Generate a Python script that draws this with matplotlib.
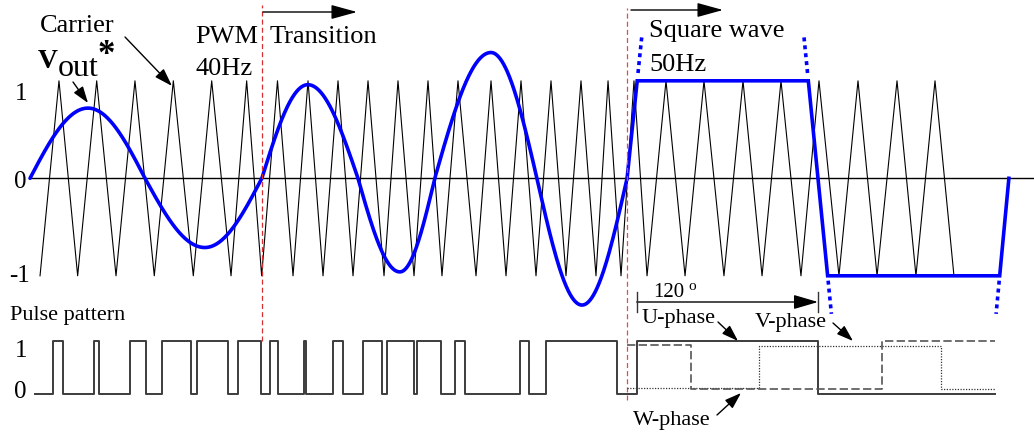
import numpy as np
import matplotlib.pyplot as plt

plt.rcParams['font.family'] = ['Liberation Serif', 'DejaVu Serif']

# ---- data (time in ms) ----
# reference voltage v_out*: zero crossings and peaks
vref_t = [0.0, 6.3, 12.5, 19.0, 25.2, 30.2, 35.65, 40.2, 44.0, 50.1, 55.1, 60.0, 64.9]
vref_v = [0.0, 0.72, 0.0, -0.71, 0.0, 0.96, 0.0, -0.96, 0.0, 1.29, 0.0, -1.30, 0.0]

# square wave operation (corners)
sq_t = [64.9, 66.0, 84.6, 86.7, 105.4, 106.4]
sq_v = [0.0, 1.0, 1.0, -1.0, -1.0, 0.0]

# triangular carrier vertices, valley first, alternating -1 / +1
carrier_t = [1.09, 3.15, 5.18, 7.25, 9.35, 11.41, 13.51, 15.58, 17.75, 19.75,
             21.85, 23.55, 25.18, 26.90, 28.59, 30.22, 31.85, 33.48, 35.11, 36.74,
             38.48, 40.00, 41.74, 43.26, 44.78, 46.52, 48.48, 50.11, 51.74, 53.37,
             55.00, 56.63, 58.26, 59.89, 61.52, 62.83, 64.24, 65.65, 67.07, 69.13,
             71.20, 73.26, 75.43, 77.50, 79.57, 81.63, 83.80, 85.76, 87.93, 90.00,
             92.07, 94.24, 96.30, 98.37, 100.43]
carrier_v = [-1 if i % 2 == 0 else 1 for i in range(len(carrier_t))]

# pulse pattern (continues as U-phase): starts low, toggles at each edge
pulse_start = 0.54
pulse_edges = [2.47, 3.55, 6.96, 7.53, 10.87, 12.61, 14.32, 17.47, 18.12, 21.49,
               22.64, 25.11, 26.09, 26.99, 29.78, 30.00, 32.90, 33.99, 36.16, 38.29,
               38.84, 41.74, 42.03, 44.64, 46.20, 47.28, 53.26, 54.27, 56.05, 63.84,
               65.95, 85.65]
pulse_end = 104.89

# V- and W-phase in square wave mode
v_edges = [64.9, 79.25, 99.0, 104.89]
v_levels = [0.11, 0.90, 0.10]
w_edges = [64.9, 71.85, 92.61, 104.89]
w_levels = [0.92, 0.09, 1.0]

# ---- layout ----
W, H = 1034, 433
PX_MS, X0 = 9.2, 30.0
Y0, Y_UNIT = 178.3, 97.5
P0, P_UNIT = 394.0, 53.0


def fx(x):
    return x / W


def fy(y):
    return 1 - y / H


def steps(start, edges, end, levels):
    xs, ys = [start], [levels[0]]
    for k, e in enumerate(edges):
        xs += [e, e]
        ys += [levels[k % len(levels)], levels[(k + 1) % len(levels)]]
    xs.append(end)
    ys.append(ys[-1])
    return xs, ys


def quarter_arcs(tk, vk, n=80):
    ts, vs = [], []
    for i in range(len(tk) - 1):
        u = np.linspace(0, 1, n)
        if vk[i] == 0:
            v = vk[i + 1] * np.sin(np.pi / 2 * u)
        else:
            v = vk[i] * np.cos(np.pi / 2 * u)
        ts.append(tk[i] + (tk[i + 1] - tk[i]) * u)
        vs.append(v)
    return np.concatenate(ts), np.concatenate(vs)


fig = plt.figure(figsize=(W / 100, H / 100), dpi=100)
xlim = (-X0 / PX_MS, (W - X0) / PX_MS)

ax = fig.add_axes([0, 0, 1, 1])
ax.set_xlim(*xlim)
ax.set_ylim((Y0 - H) / Y_UNIT, Y0 / Y_UNIT)
ax.axis('off')

ax2 = fig.add_axes([0, 0, 1, 1])
ax2.set_facecolor('none')
ax2.set_xlim(*xlim)
ax2.set_ylim((P0 - H) / P_UNIT, P0 / P_UNIT)
ax2.axis('off')

# zero line, carrier, reference
ax.axhline(0, xmin=fx(X0), xmax=1, color='black', lw=1.0)
ax.plot(carrier_t, carrier_v, color='black', lw=0.8)
st, sv = quarter_arcs(vref_t, vref_v)
ax.plot(st, sv, color='#0000ff', lw=2.6, solid_capstyle='round')
ax.plot(sq_t, sq_v, color='#0000ff', lw=2.6, solid_joinstyle='miter')


# dotted continuation of the square wave edges
def edge_ext(i, j, va, vb):
    k = (sq_t[j] - sq_t[i]) / (sq_v[j] - sq_v[i])
    return [sq_t[i] + (va - sq_v[i]) * k, sq_t[i] + (vb - sq_v[i]) * k], [va, vb]


for (i, j, va, vb) in [(0, 1, 1.08, 1.47), (2, 3, 1.08, 1.47),
                       (2, 3, -1.05, -1.39), (4, 5, -1.05, -1.39)]:
    ex, ey = edge_ext(i, j, va, vb)
    ax.plot(ex, ey, color='#0000ff', lw=2.6, linestyle=(0, (1.1, 1.1)))

# mode boundaries
ax.axvline(vref_t[4], ymin=fy(341), ymax=fy(5), color='#d83030', lw=0.9, dashes=(4, 2.5))
ax.axvline(vref_t[-1], ymin=fy(400), ymax=fy(8), color='#e84848', lw=0.9, dashes=(4, 2.5))

# pulse pattern / phases
px_, py_ = steps(pulse_start, pulse_edges, pulse_end, [0, 1])
ax2.plot(px_, py_, color='#3c3c3c', lw=1.4)
vx, vy = steps(v_edges[0], v_edges[1:-1], v_edges[-1], v_levels)
ax2.plot(vx, vy, color='#333333', lw=0.9, linestyle=(0, (1, 1.2)))
wx, wy = steps(w_edges[0], w_edges[1:-1], w_edges[-1], w_levels)
ax2.plot(wx, wy, color='#555555', lw=1.2, dashes=(5, 2))

# ---- text ----
ts = 19
fig.text(fx(40), fy(32), 'Carrier', fontsize=ts, va='baseline')
fig.text(fx(38), fy(68), 'V', fontsize=20, fontweight='bold', va='baseline')
fig.text(fx(58), fy(76), 'out', fontsize=23, va='baseline')
fig.text(fx(98), fy(64), '*', fontsize=25, fontweight='bold', va='baseline')
fig.text(fx(195), fy(43), 'PWM', fontsize=ts, va='baseline')
fig.text(fx(270), fy(43), 'Transition', fontsize=ts, va='baseline')
fig.text(fx(196), fy(75), '40Hz', fontsize=ts, va='baseline')
fig.text(fx(649), fy(37), 'Square wave', fontsize=ts, va='baseline')
fig.text(fx(649), fy(71), '50Hz', fontsize=ts, va='baseline')

fig.text(fx(21), fy(100), '1', fontsize=18, ha='center', va='baseline')
fig.text(fx(20), fy(188), '0', fontsize=18, ha='center', va='baseline')
fig.text(fx(19), fy(282), '-1', fontsize=18, ha='center', va='baseline')
fig.text(fx(10), fy(320), 'Pulse pattern', fontsize=16, va='baseline')
fig.text(fx(21), fy(357), '1', fontsize=18, ha='center', va='baseline')
fig.text(fx(20), fy(398), '0', fontsize=18, ha='center', va='baseline')

fig.text(fx(653), fy(297), '120', fontsize=15, va='baseline')
fig.text(fx(688), fy(290), 'o', fontsize=11, va='baseline')
fig.text(fx(642), fy(323), 'U-phase', fontsize=16, va='baseline')
fig.text(fx(755), fy(327), 'V-phase', fontsize=16, va='baseline')
fig.text(fx(633), fy(425), 'W-phase', fontsize=16, va='baseline')


def arrow(x0, y0, x1, y1, hl=0.55, hw=0.18, lw=1.0):
    fig.add_artist(plt.matplotlib.patches.FancyArrowPatch(
        (fx(x0), fy(y0)), (fx(x1), fy(y1)), transform=fig.transFigure,
        arrowstyle=f'-|>,head_length={hl},head_width={hw}', mutation_scale=20,
        color='black', lw=lw, shrinkA=0, shrinkB=0))


arrow(125, 37, 172, 86)
arrow(73, 82, 88, 103, hl=0.5, hw=0.17)
arrow(263, 12, 357, 12, hl=0.8, hw=0.22)
arrow(631, 10, 723, 10, hl=0.8, hw=0.22)
arrow(718, 322, 738, 341, hl=0.5, hw=0.17)
arrow(833, 323, 853, 341, hl=0.5, hw=0.17)
arrow(717, 415, 741, 393, hl=0.5, hw=0.17)

# 120 degree span between U-phase edges
u0 = X0 + pulse_edges[-2] * PX_MS
u1 = X0 + pulse_edges[-1] * PX_MS
for ux in (u0, u1):
    fig.add_artist(plt.Line2D([fx(ux), fx(ux)], [fy(292), fy(312)],
                              transform=fig.transFigure, color='#333333', lw=1.0))
arrow(u0, 302, u1, 302, hl=0.75, hw=0.22)

fig.savefig('out.png', dpi=100)
